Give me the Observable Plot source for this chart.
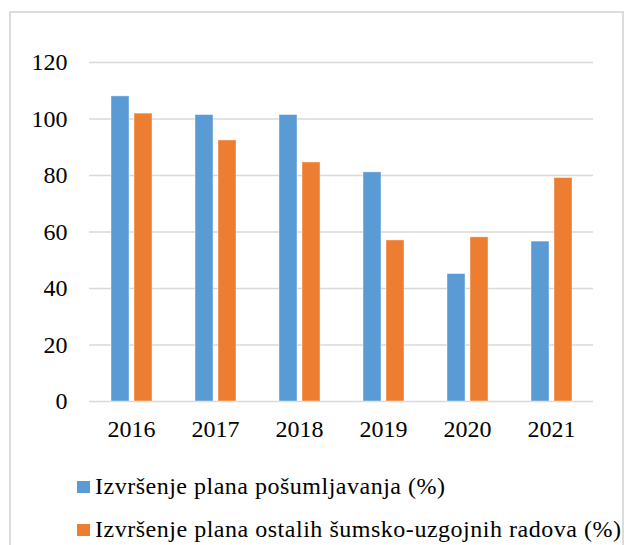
<!DOCTYPE html>
<html><head><meta charset="utf-8">
<script src="https://cdn.jsdelivr.net/npm/d3@7"></script>
<script src="https://cdn.jsdelivr.net/npm/@observablehq/plot@0.6"></script>
<style>
body{margin:0;background:#fff;}
#wrap{position:relative;width:624px;height:545px;overflow:hidden;font-family:"Liberation Serif","Times New Roman",serif;}
#chart{position:absolute;left:0;top:0;}
#frame{position:absolute;left:9px;top:11px;width:615px;height:600px;border:2px solid #dcdcdc;box-sizing:border-box;pointer-events:none;}
#legend{position:absolute;left:0;top:0;pointer-events:none;}
</style></head><body>
<div id="wrap"><div id="chart"></div><div id="frame"></div><svg id="legend" width="624" height="545"></svg></div>
<script>
const years = ["2016","2017","2018","2019","2020","2021"];
const afforestation = [108, 101.4, 101.4, 81.1, 45.1, 56.6];
const otherWorks = [101.9, 92.4, 84.6, 57.0, 58.1, 79.1];
const seriesNames = ["Izvršenje plana pošumljavanja (%)", "Izvršenje plana ostalih šumsko-uzgojnih radova (%)"];
const seriesColors = ["#5b9bd5", "#ed7d31"];
const yTicks = [0, 20, 40, 60, 80, 100, 120];

const data = years.flatMap((yr, i) => [
  {year: yr, series: seriesNames[0], value: afforestation[i]},
  {year: yr, series: seriesNames[1], value: otherWorks[i]}
]);

const chart = Plot.plot({
  width: 624, height: 460,
  marginTop: 62, marginBottom: 59, marginLeft: 87, marginRight: 29,
  style: {fontFamily: "Liberation Serif", fontSize: "24px", background: "transparent", color: "#000", overflow: "visible"},
  fx: {domain: years, padding: 0, label: null, tickSize: 0, tickPadding: 18, axis: "bottom"},
  x: {domain: seriesNames, paddingInner: 0.227, paddingOuter: 0.887, axis: null},
  y: {domain: [0, 120], ticks: yTicks, label: null, tickSize: 0, tickPadding: 22, axis: "left"},
  color: {domain: seriesNames, range: seriesColors},
  marks: [
    Plot.ruleY(yTicks, {stroke: "#d9d9d9", strokeWidth: 1.6}),
    Plot.barY(data, {fx: "year", x: "series", y: "value", fill: "series", stroke: "#ffffff", strokeOpacity: 0.5, strokeWidth: 0.8})
  ]
});
document.getElementById("chart").appendChild(chart);

const legend = d3.select("#legend");
const legendRows = [
  {name: seriesNames[0], color: seriesColors[0], y: 494, len: 350},
  {name: seriesNames[1], color: seriesColors[1], y: 537, len: 526}
];
legendRows.forEach(r => {
  legend.append("rect").attr("x", 77).attr("y", r.y - 13).attr("width", 13).attr("height", 12).attr("fill", r.color);
  legend.append("text").attr("x", 95).attr("y", r.y)
    .attr("font-family", "Liberation Serif").attr("font-size", 24)
    .attr("textLength", r.len).attr("lengthAdjust", "spacing").attr("fill", "#000").text(r.name);
});
</script>
</body></html>
